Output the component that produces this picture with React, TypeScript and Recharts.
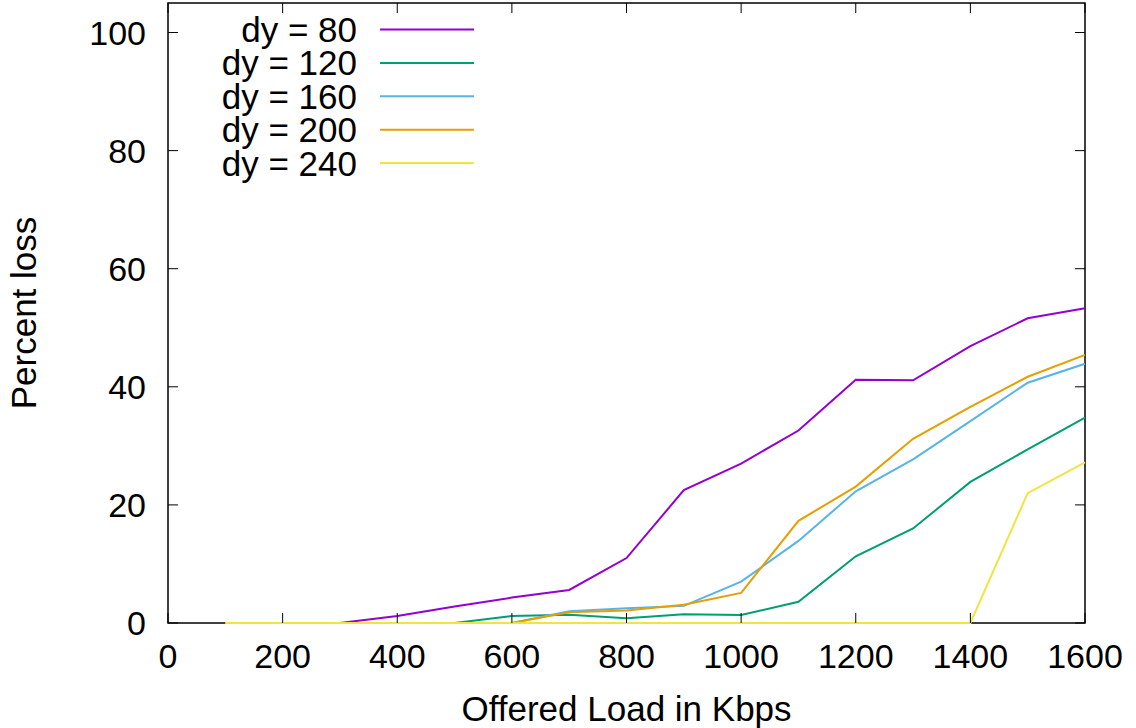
import React from "react";
import {
  LineChart,
  Line,
  XAxis,
  YAxis,
  Legend,
  ReferenceArea,
} from "recharts";

// offered load (Kbps) and percent loss per dy setting
const loads = [100, 200, 300, 400, 500, 600, 700, 800, 900, 1000, 1100, 1200, 1300, 1400, 1500, 1600];
const dy80 = [0, 0, 0, 1.2, 2.8, 4.3, 5.6, 11.0, 22.5, 27.0, 32.6, 41.2, 41.1, 46.9, 51.6, 53.3];
const dy120 = [0, 0, 0, 0, 0, 1.2, 1.4, 0.8, 1.5, 1.35, 3.6, 11.3, 16.0, 23.9, 29.4, 34.8];
const dy160 = [0, 0, 0, 0, 0, 0, 2.0, 2.5, 2.9, 7.0, 13.9, 22.3, 27.7, 34.2, 40.7, 43.9];
const dy200 = [0, 0, 0, 0, 0, 0, 1.8, 2.1, 3.1, 5.1, 17.3, 23.1, 31.2, 36.6, 41.7, 45.4];
const dy240 = [0, 0, 0, 0, 0, 0, 0, 0, 0, 0, 0, 0, 0, 0, 22.0, 27.2];

const xTicks = [0, 200, 400, 600, 800, 1000, 1200, 1400, 1600];
const yTicks = [0, 20, 40, 60, 80, 100];

const series = [
  { key: "dy80", name: "dy = 80", color: "#9400d3" },
  { key: "dy120", name: "dy = 120", color: "#009e73" },
  { key: "dy160", name: "dy = 160", color: "#56b4e9" },
  { key: "dy200", name: "dy = 200", color: "#e69f00" },
  { key: "dy240", name: "dy = 240", color: "#f0e442" },
];

const data = loads.map((x, i) => ({
  load: x,
  dy80: dy80[i],
  dy120: dy120[i],
  dy160: dy160[i],
  dy200: dy200[i],
  dy240: dy240[i],
}));

const W = 1136;
const H = 728;
const LEFT = 168;
const RIGHT = 1085;
const TOP = 3;
const BOTTOM = 623;
const FONT = "'Liberation Sans', Arial, sans-serif";
const FS = 35;
const TICK_FS = 34;

const XTick = (props: any) => {
  const { x, payload } = props;
  return (
    <g>
      <line x1={x} x2={x} y1={BOTTOM} y2={BOTTOM - 10} stroke="#000" />
      <line x1={x} x2={x} y1={TOP} y2={TOP + 10} stroke="#000" />
      <text x={x} y={BOTTOM + 45} textAnchor="middle" fontSize={TICK_FS} fontFamily={FONT} fill="#000">
        {payload.value}
      </text>
    </g>
  );
};

const YTick = (props: any) => {
  const { y, payload } = props;
  return (
    <g>
      <line x1={LEFT} x2={LEFT + 10} y1={y} y2={y} stroke="#000" />
      <line x1={RIGHT - 10} x2={RIGHT} y1={y} y2={y} stroke="#000" />
      <text x={LEFT - 22} y={y + 12} textAnchor="end" fontSize={TICK_FS} fontFamily={FONT} fill="#000">
        {payload.value}
      </text>
    </g>
  );
};

// legend in series order (recharts sorts its payload by name)
const KeyBox = (props: any) => {
  const items = props.payload || [];
  const ordered = series
    .map((s) => items.find((it: any) => it.dataKey === s.key) || { value: s.name, color: s.color });
  return (
    <svg width={480} height={185} style={{ display: "block" }}>
      {ordered.map((it: any, i: number) => {
        const cy = 29.5 + i * 33.4;
        return (
          <g key={i}>
            <text x={357} y={cy + 12.5} textAnchor="end" fontSize={FS} fontFamily={FONT} fill="#000">
              {it.value}
            </text>
            <line x1={380} x2={474} y1={cy} y2={cy} stroke={it.color} strokeWidth={2} />
          </g>
        );
      })}
    </svg>
  );
};

export default function App() {
  return (
    <div style={{ position: "absolute", left: 0, top: 0, width: W, height: H, background: "#fff" }}>
      <LineChart
        width={W}
        height={H}
        data={data}
        margin={{ top: TOP, right: W - RIGHT, bottom: 0, left: 0 }}
      >
        <ReferenceArea
          x1={0}
          x2={1600}
          y1={0}
          y2={105}
          fill="none"
          stroke="#000"
          strokeWidth={1.5}
          ifOverflow="visible"
        />
        <XAxis
          dataKey="load"
          type="number"
          domain={[0, 1600]}
          ticks={xTicks}
          height={H - BOTTOM}
          axisLine={false}
          tickLine={false}
          tickSize={0}
          tickMargin={0}
          interval={0}
          tick={<XTick />}
          label={{
            content: () => (
              <text
                x={(LEFT + RIGHT) / 2}
                y={721}
                textAnchor="middle"
                fontSize={FS}
                fontFamily={FONT}
                fill="#000"
              >
                Offered Load in Kbps
              </text>
            ),
          }}
        />
        <YAxis
          type="number"
          domain={[0, 105]}
          ticks={yTicks}
          width={LEFT}
          axisLine={false}
          tickLine={false}
          tickSize={0}
          tickMargin={0}
          interval={0}
          tick={<YTick />}
          label={{
            content: () => (
              <text
                x={36}
                y={(TOP + BOTTOM) / 2}
                transform={`rotate(-90 36 ${(TOP + BOTTOM) / 2})`}
                textAnchor="middle"
                fontSize={FS}
                fontFamily={FONT}
                fill="#000"
              >
                Percent loss
              </text>
            ),
          }}
        />
        <Legend
          layout="vertical"
          align="center"
          verticalAlign="middle"
          content={<KeyBox />}
          wrapperStyle={{ left: 0, top: 0, width: 480, height: 185 }}
        />
        {series.map((s) => (
          <Line
            key={s.key}
            type="linear"
            dataKey={s.key}
            name={s.name}
            stroke={s.color}
            strokeWidth={2}
            dot={false}
            activeDot={false}
            isAnimationActive={false}
          />
        ))}
      </LineChart>
    </div>
  );
}
